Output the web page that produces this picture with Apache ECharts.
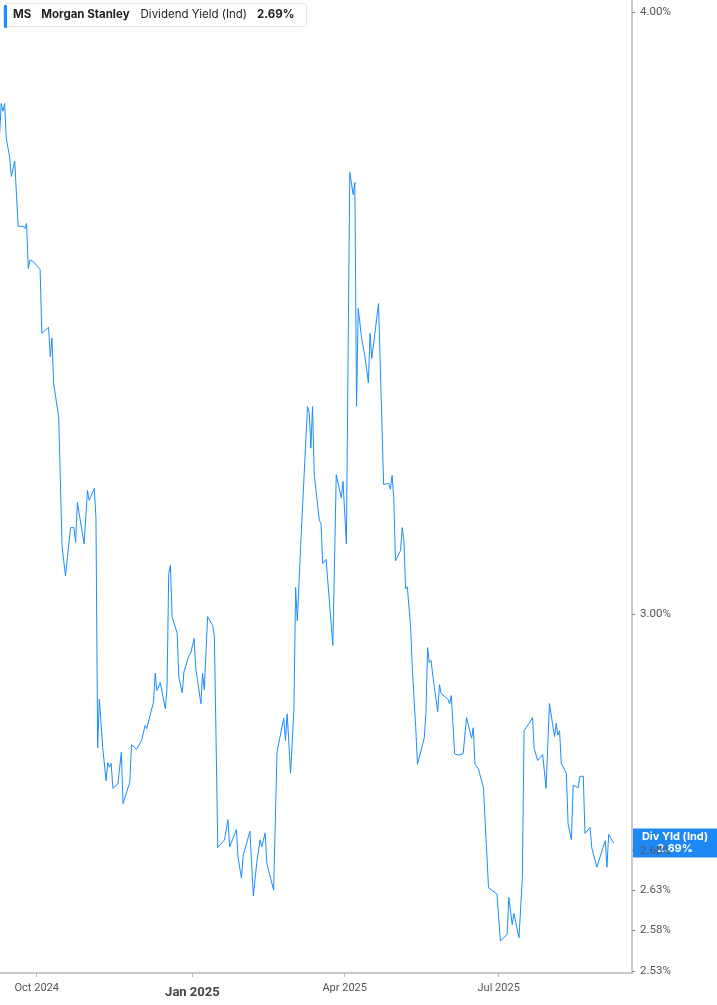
<!DOCTYPE html>
<html>
<head>
<meta charset="utf-8">
<script src="https://cdn.jsdelivr.net/npm/echarts@6/dist/echarts.min.js"></script>
<style>
html,body{margin:0;padding:0;background:#fff;}
#chart{width:717px;height:1005px;}
</style>
</head>
<body>
<div id="chart"></div>
<script>
const dates = [
'2024-09-09','2024-09-10','2024-09-11','2024-09-12','2024-09-13','2024-09-15','2024-09-16','2024-09-18','2024-09-20','2024-09-23',
'2024-09-24','2024-09-25','2024-09-26','2024-09-27','2024-09-29','2024-10-01','2024-10-03','2024-10-04','2024-10-08','2024-10-09',
'2024-10-10','2024-10-11','2024-10-14','2024-10-15','2024-10-16','2024-10-17','2024-10-18','2024-10-21','2024-10-23','2024-10-24',
'2024-10-25','2024-10-29','2024-10-31','2024-11-01','2024-11-04','2024-11-05','2024-11-06','2024-11-07','2024-11-09','2024-11-11',
'2024-11-12','2024-11-13','2024-11-14','2024-11-15','2024-11-18','2024-11-20','2024-11-21','2024-11-25','2024-11-26','2024-11-27',
'2024-11-29','2024-12-02','2024-12-04','2024-12-05','2024-12-09','2024-12-10','2024-12-11','2024-12-13','2024-12-16','2024-12-17',
'2024-12-18','2024-12-19','2024-12-20','2024-12-23','2024-12-24','2024-12-26','2024-12-27','2024-12-30','2024-12-31','2025-01-02',
'2025-01-03','2025-01-06','2025-01-07','2025-01-08','2025-01-10','2025-01-13','2025-01-14','2025-01-16','2025-01-20','2025-01-22',
'2025-01-23','2025-01-24','2025-01-27','2025-01-28','2025-01-29','2025-01-30','2025-01-31','2025-02-04','2025-02-06','2025-02-08',
'2025-02-10','2025-02-11','2025-02-13','2025-02-14','2025-02-18','2025-02-19','2025-02-20','2025-02-21','2025-02-24','2025-02-25',
'2025-02-26','2025-02-28','2025-03-02','2025-03-03','2025-03-04','2025-03-06','2025-03-07','2025-03-10','2025-03-11','2025-03-12',
'2025-03-13','2025-03-14','2025-03-17','2025-03-18','2025-03-19','2025-03-21','2025-03-25','2025-03-27','2025-03-30','2025-03-31',
'2025-04-02','2025-04-04','2025-04-06','2025-04-07','2025-04-08','2025-04-09','2025-04-11','2025-04-13','2025-04-15','2025-04-16',
'2025-04-17','2025-04-21','2025-04-24','2025-04-25','2025-04-27','2025-04-28','2025-04-29','2025-04-30','2025-05-01','2025-05-04',
'2025-05-05','2025-05-06','2025-05-07','2025-05-08','2025-05-10','2025-05-11','2025-05-13','2025-05-14','2025-05-18','2025-05-19',
'2025-05-20','2025-05-21','2025-05-22','2025-05-24','2025-05-26','2025-05-27','2025-05-28','2025-05-29','2025-06-01','2025-06-02',
'2025-06-03','2025-06-05','2025-06-07','2025-06-08','2025-06-10','2025-06-11','2025-06-12','2025-06-15','2025-06-16','2025-06-17',
'2025-06-19','2025-06-22','2025-06-25','2025-06-27','2025-06-30','2025-07-02','2025-07-06','2025-07-07','2025-07-09','2025-07-10',
'2025-07-13','2025-07-15','2025-07-16','2025-07-19','2025-07-21','2025-07-22','2025-07-24','2025-07-27','2025-07-29','2025-07-31',
'2025-08-03','2025-08-04','2025-08-05','2025-08-06','2025-08-07','2025-08-10','2025-08-11','2025-08-13','2025-08-14','2025-08-17',
'2025-08-18','2025-08-20','2025-08-21','2025-08-24','2025-08-25','2025-08-28','2025-09-02','2025-09-03','2025-09-04','2025-09-07'
];
const yields = [
3.769,3.829,3.815,3.829,3.766,3.732,3.698,3.725,3.611,3.611,
3.607,3.616,3.539,3.553,3.551,3.544,3.537,3.431,3.441,3.393,
3.423,3.350,3.296,3.296,3.098,3.096,3.056,3.127,3.127,3.105,
3.165,3.103,3.183,3.168,3.186,3.142,2.815,2.881,2.815,2.771,
2.795,2.789,2.794,2.761,2.767,2.809,2.741,2.769,2.819,2.819,
2.813,2.825,2.845,2.841,2.877,2.917,2.893,2.904,2.868,2.896,
3.059,3.071,2.997,2.973,2.911,2.890,2.919,2.942,2.945,2.966,
2.924,2.875,2.917,2.894,2.997,2.984,2.969,2.684,2.694,2.720,
2.685,2.685,2.707,2.671,2.669,2.645,2.674,2.705,2.623,2.664,
2.694,2.685,2.703,2.664,2.630,2.630,2.809,2.821,2.855,2.825,
2.861,2.781,2.867,3.039,2.991,3.101,3.102,3.313,3.304,3.248,
3.313,3.207,3.138,3.133,3.074,3.080,2.956,3.207,3.172,3.197,
3.103,3.705,3.666,3.687,3.313,3.472,3.423,3.393,3.351,3.431,
3.390,3.480,3.192,3.191,3.194,3.185,3.206,3.171,3.078,3.093,
3.127,3.108,3.037,3.040,2.981,2.921,2.842,2.793,2.828,2.861,
2.953,2.932,2.935,2.897,2.864,2.901,2.889,2.889,2.881,2.875,
2.886,2.807,2.805,2.805,2.807,2.805,2.856,2.828,2.842,2.793,
2.787,2.762,2.633,2.630,2.625,2.567,2.575,2.621,2.587,2.601,
2.571,2.646,2.838,2.848,2.856,2.814,2.798,2.806,2.761,2.875,
2.830,2.848,2.832,2.838,2.794,2.781,2.715,2.694,2.765,2.762,
2.777,2.777,2.702,2.710,2.684,2.659,2.693,2.659,2.701,2.690
];
const yTicks = [2.53, 2.58, 2.63, 2.68, 3.00, 4.00];
const monthNames = ['Jan','Feb','Mar','Apr','May','Jun','Jul','Aug','Sep','Oct','Nov','Dec'];
const lastValue = 2.69;

function ts(s){ const p = s.split('-').map(Number); return new Date(p[0], p[1]-1, p[2]).getTime(); }
const seriesData = dates.map((d, i) => [ts(d), yields[i]]);
const QUARTER = 91 * 24 * 3600e3;

const chart = echarts.init(document.getElementById('chart'));
const FONT = 'Inter, Roboto, sans-serif';
chart.setOption({
  animation: false,
  backgroundColor: '#ffffff',
  grid: { left: 0, right: 85, top: 0, bottom: 32 },
  title: {
    left: 3, top: 3,
    padding: [6, 12, 6, 10],
    borderColor: '#e4e4e4', borderWidth: 1, borderRadius: 3,
    backgroundColor: '#ffffff',
    text: '{a|MS}{b|Morgan Stanley}{c|Dividend Yield (Ind)}{d|' + lastValue.toFixed(2) + '%}',
    textStyle: {
      rich: {
        a: { fontFamily: FONT, fontSize: 11.5, fontWeight: 'bold', color: '#1f1f1f', padding: [0, 10, 0, 0] },
        b: { fontFamily: FONT, fontSize: 11.5, fontWeight: 'bold', color: '#1f1f1f', padding: [0, 11, 0, 0] },
        c: { fontFamily: FONT, fontSize: 11.5, fontWeight: 'normal', color: '#1f1f1f', padding: [0, 10, 0, 0] },
        d: { fontFamily: FONT, fontSize: 11.5, fontWeight: 'bold', color: '#1f1f1f' }
      }
    }
  },
  graphic: [{
    type: 'rect', left: 4, top: 5, z: 100,
    shape: { width: 3, height: 23, r: 1 },
    style: { fill: '#1a8cff' }
  }],
  xAxis: {
    type: 'time',
    min: ts('2024-09-09') + 7 * 3600e3,
    max: ts('2025-09-17') + 19 * 3600e3,
    minInterval: QUARTER,
    maxInterval: QUARTER,
    splitLine: { show: false },
    axisLine: { show: true, lineStyle: { color: '#b8b8b8', width: 1.5 } },
    axisTick: { show: true, length: 4, lineStyle: { color: '#b8b8b8' } },
    minorTick: { show: false },
    axisLabel: {
      margin: 10,
      fontFamily: 'Roboto, sans-serif', fontSize: 11, color: '#555',
      formatter: function (v) {
        const d = new Date(v);
        const t = monthNames[d.getMonth()] + ' ' + d.getFullYear();
        return d.getMonth() === 0 ? '{b|' + t + '}' : '{n|' + t + '}';
      },
      rich: {
        n: { fontFamily: 'Roboto, sans-serif', fontSize: 11, fontWeight: 'normal', color: '#555' },
        b: { fontFamily: 'Roboto, sans-serif', fontSize: 13, fontWeight: 'bold', color: '#444', padding: [3, 0, 0, 0] }
      }
    }
  },
  yAxis: {
    type: 'log',
    logBase: 10,
    position: 'right',
    min: 2.528, max: 4.023,
    z: 5,
    splitLine: { show: false },
    axisLine: { show: true, lineStyle: { color: '#b8b8b8', width: 1.5 } },
    axisTick: { show: true, customValues: yTicks, length: 3, inside: false, lineStyle: { color: '#888' } },
    axisLabel: {
      customValues: yTicks,
      margin: 8,
      fontFamily: 'Roboto, sans-serif', fontSize: 11.5, color: '#555',
      formatter: function (v) { return (+v).toFixed(2) + '%'; }
    }
  },
  series: [{
    type: 'line',
    data: seriesData,
    clip: false,
    z: 2,
    showSymbol: false,
    symbol: 'none',
    lineStyle: { color: '#1a8cff', width: 1 },
    markLine: {
      silent: true,
      symbol: ['none', 'none'],
      lineStyle: { color: 'rgba(255,255,255,0)', width: 0, type: 'solid' },
      data: [{ yAxis: lastValue }],
      label: {
        show: true,
        position: 'end',
        distance: 43,
        formatter: 'Div Yld (Ind)\n' + lastValue.toFixed(2) + '%',
        backgroundColor: '#1e88f5',
        color: '#ffffff',
        fontFamily: FONT, fontSize: 11, fontWeight: 'bold',
        lineHeight: 12,
        width: 68,
        align: 'center',
        padding: [3, 8, 2, 8]
      }
    }
  }]
});
</script>
</body>
</html>
